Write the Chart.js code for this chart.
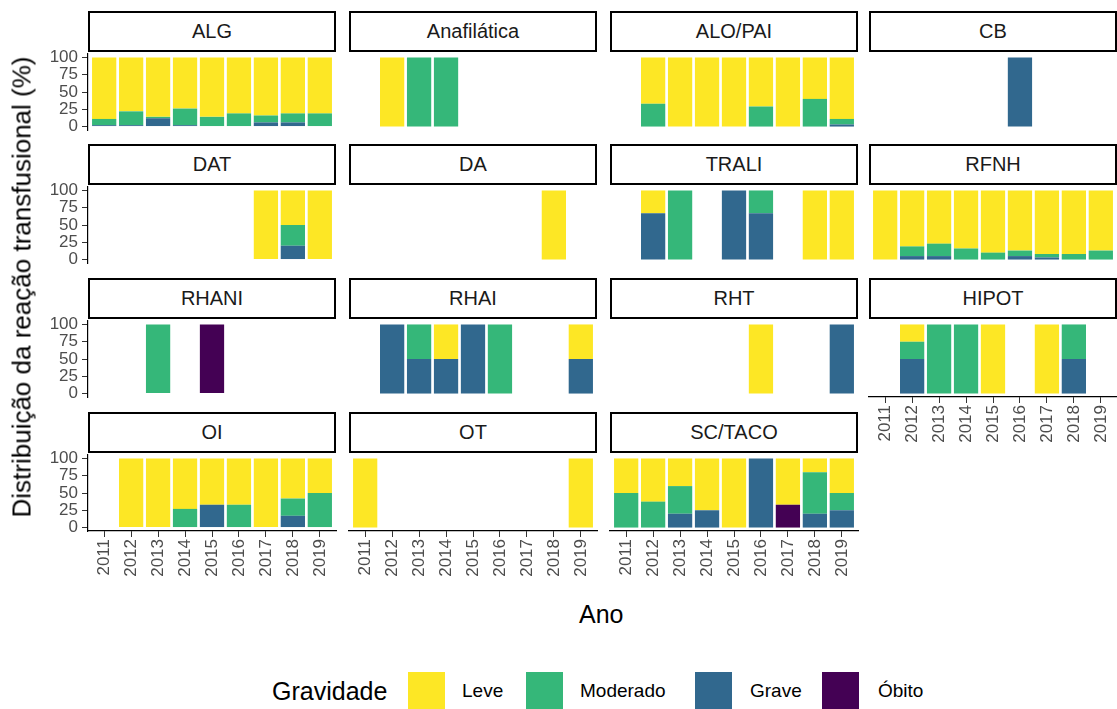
<!DOCTYPE html>
<html>
<head>
<meta charset="utf-8">
<script src="https://cdn.jsdelivr.net/npm/chart.js@4.4.1/dist/chart.umd.min.js"></script>
<style>
  html, body { margin: 0; overflow: hidden; }
  body { width: 1117px; height: 709px; position: relative; background: #fff;
         font-family: "Liberation Sans", Arial, sans-serif; }
  canvas { position: absolute; pointer-events: none; }
  .strip { position: absolute; box-sizing: border-box; border: 2px solid #000; background: #fff;
           display: flex; align-items: center; justify-content: center; font-size: 20px; color: #1a1a1a; }
  .title { position: absolute; font-size: 25px; color: #000; white-space: nowrap; }
  .key { position: absolute; width: 37px; height: 37px; }
  .lab { position: absolute; font-size: 19px; color: #000; white-space: nowrap; }
</style>
</head>
<body>
<script>
// anos e níveis de gravidade
const years = ['2011', '2012', '2013', '2014', '2015', '2016', '2017', '2018', '2019'];
const levels = ['Óbito', 'Grave', 'Moderado', 'Leve'];   // ordem de empilhamento (base -> topo)
const palette = { 'Leve': '#FDE725', 'Moderado': '#35B779', 'Grave': '#31688E', 'Óbito': '#440154' };
const yTicks = [0, 25, 50, 75, 100];

const _ = null;
// distribuição (%) por tipo de reação, um vetor por gravidade
const ALG = {
  Leve:     [89, 78, 86, 74, 86, 81, 84, 81, 81],
  Moderado: [9, 20, 2, 24, 14, 19, 10, 13, 19],
  Grave:    [2, 2, 12, 2, _, _, 6, 6, _],
};
const Anafilatica = {
  Leve:     [_, 100, _, _, _, _, _, _, _],
  Moderado: [_, _, 100, 100, _, _, _, _, _],
};
const ALO_PAI = {
  Leve:     [_, 67, 100, 100, 100, 71, 100, 60, 89],
  Moderado: [_, 33, _, _, _, 29, _, 40, 8],
  Grave:    [_, _, _, _, _, _, _, _, 3],
};
const CB = {
  Grave:    [_, _, _, _, _, 100, _, _, _],
};
const DAT = {
  Leve:     [_, _, _, _, _, _, 100, 50, 100],
  Moderado: [_, _, _, _, _, _, _, 30, _],
  Grave:    [_, _, _, _, _, _, _, 20, _],
};
const DA = {
  Leve:     [_, _, _, _, _, _, _, 100, _],
};
const TRALI = {
  Leve:     [_, 33, _, _, _, _, _, 100, 100],
  Moderado: [_, _, 100, _, _, 33, _, _, _],
  Grave:    [_, 67, _, _, 100, 67, _, _, _],
};
const RFNH = {
  Leve:     [100, 81, 77, 84, 90, 87, 92, 92, 87],
  Moderado: [_, 14, 18, 16, 10, 8, 5, 8, 13],
  Grave:    [_, 5, 5, _, _, 5, 3, _, _],
};
const RHANI = {
  Moderado: [_, _, 100, _, _, _, _, _, _],
  'Óbito':  [_, _, _, _, 100, _, _, _, _],
};
const RHAI = {
  Leve:     [_, _, _, 50, _, _, _, _, 50],
  Moderado: [_, _, 50, _, _, 100, _, _, _],
  Grave:    [_, 100, 50, 50, 100, _, _, _, 50],
};
const RHT = {
  Leve:     [_, _, _, _, _, 100, _, _, _],
  Grave:    [_, _, _, _, _, _, _, _, 100],
};
const HIPOT = {
  Leve:     [_, 25, _, _, 100, _, 100, _, _],
  Moderado: [_, 25, 100, 100, _, _, _, 50, _],
  Grave:    [_, 50, _, _, _, _, _, 50, _],
};
const OI = {
  Leve:     [_, 100, 100, 73, 67, 67, 100, 58, 50],
  Moderado: [_, _, _, 27, _, 33, _, 25, 50],
  Grave:    [_, _, _, _, 33, _, _, 17, _],
};
const OT = {
  Leve:     [100, _, _, _, _, _, _, _, 100],
};
const SC_TACO = {
  Leve:     [50, 62.5, 40, 75, 100, _, 67, 20, 50],
  Moderado: [50, 37.5, 40, _, _, _, _, 60, 25],
  Grave:    [_, _, 20, 25, _, 100, _, 20, 25],
  'Óbito':  [_, _, _, _, _, _, 33, _, _],
};

const panels = [
  ['ALG', ALG], ['Anafilática', Anafilatica], ['ALO/PAI', ALO_PAI], ['CB', CB],
  ['DAT', DAT], ['DA', DA], ['TRALI', TRALI], ['RFNH', RFNH],
  ['RHANI', RHANI], ['RHAI', RHAI], ['RHT', RHT], ['HIPOT', HIPOT],
  ['OI', OI], ['OT', OT], ['SC/TACO', SC_TACO],
];

// grade dos painéis
const colX = [88, 349, 610, 869];
const rowY = [54, 187, 321, 455];
const PW = 248, PH = 76;
const M = { l: 52, r: 30, t: 16, b: 60 };
const font = '"Liberation Sans", Arial, sans-serif';

function el(cls, css, text) {
  const d = document.createElement('div');
  d.className = cls;
  Object.assign(d.style, css);
  if (text != null) d.textContent = text;
  document.body.appendChild(d);
  return d;
}

panels.forEach(([name, series], i) => {
  const col = i % 4, row = Math.floor(i / 4);
  const showY = col === 0;
  const showX = row === 3 || (row === 2 && col === 3);
  const x0 = colX[col], y0 = rowY[row];

  el('strip', { left: x0 + 'px', top: (y0 - 43) + 'px', width: PW + 'px', height: '41px' }, name);

  const cv = document.createElement('canvas');
  cv.width = PW + M.l + M.r;
  cv.height = PH + M.t + M.b;
  Object.assign(cv.style, { left: (x0 - M.l) + 'px', top: (y0 - M.t) + 'px',
                            width: cv.width + 'px', height: cv.height + 'px' });
  document.body.appendChild(cv);

  const datasets = levels.filter(k => series[k]).map(k => ({
    label: k,
    data: series[k].map((v, j) => ({ x: j + 1, y: v })).filter(p => p.y != null),
    backgroundColor: palette[k],
    borderWidth: 0,
    barPercentage: 0.9,
    categoryPercentage: 1,
  }));

  // os eixos ocultos continuam reservando o mesmo espaço, assim a área de plotagem é igual em todos os painéis
  new Chart(cv, {
    type: 'bar',
    data: { datasets },
    options: {
      responsive: false,
      animation: false,
      events: [],
      layout: { padding: { left: 0, right: M.r, top: M.t, bottom: 0 } },
      plugins: { legend: { display: false }, tooltip: { enabled: false } },
      scales: {
        x: {
          type: 'linear', stacked: true, min: 0.4, max: 9.6, offset: false,
          display: showX,
          afterBuildTicks: s => { s.ticks = years.map((_, j) => ({ value: j + 1 })); },
          afterFit: s => { s.height = M.b; },
          border: { display: true, color: '#000', width: 1.2 },
          grid: { display: true, offset: false, drawOnChartArea: false, drawTicks: true, tickLength: 6, color: '#333' },
          ticks: {
            minRotation: 90, maxRotation: 90, autoSkip: false, padding: 2,
            color: '#4d4d4d', font: { family: font, size: 17 },
            callback: v => years[v - 1],
          },
        },
        y: {
          stacked: true, min: -5, max: 105,
          display: showY,
          afterBuildTicks: s => { s.ticks = yTicks.map(v => ({ value: v })); },
          afterFit: s => { s.width = M.l; },
          border: { display: true, color: '#000', width: 1.2 },
          grid: { display: true, drawOnChartArea: false, drawTicks: true, tickLength: 6, color: '#333' },
          ticks: { autoSkip: false, padding: 4, color: '#4d4d4d', font: { family: font, size: 17 } },
        },
      },
    },
  });
});

// títulos dos eixos
el('title', { left: '579px', top: '600px' }, 'Ano');
el('title', { left: '22px', top: '287px', fontSize: '26px', transform: 'translate(-50%, -50%) rotate(-90deg)' },
  'Distribuição da reação transfusional (%)');

// legenda
el('title', { left: '272px', top: '677px' }, 'Gravidade');
const legendPos = [['Leve', 408, 462], ['Moderado', 526, 580], ['Grave', 695, 750], ['Óbito', 822, 878]];
legendPos.forEach(([k, kx, tx]) => {
  el('key', { left: kx + 'px', top: '672px', background: palette[k] });
  el('lab', { left: tx + 'px', top: '680px' }, k);
});
</script>
</body>
</html>
